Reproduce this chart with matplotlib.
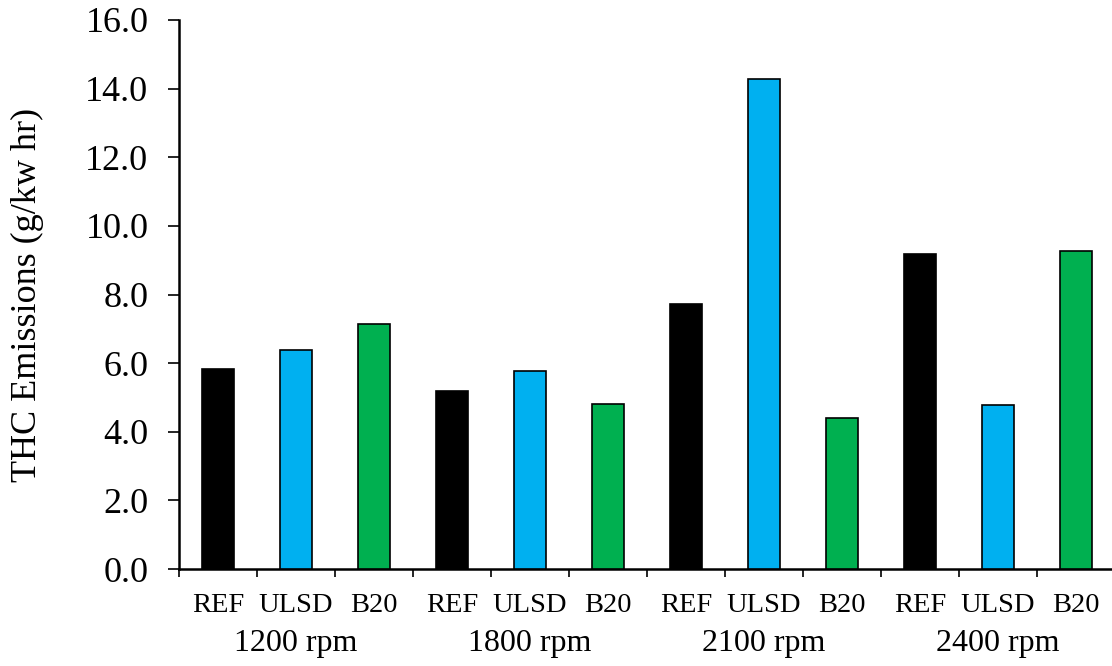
import matplotlib
matplotlib.use("Agg")
import matplotlib.pyplot as plt
import matplotlib.transforms as mtransforms
import numpy as np

plt.rcParams['font.family'] = ['Liberation Serif', 'DejaVu Serif']

speeds = ["1200 rpm", "1800 rpm", "2100 rpm", "2400 rpm"]
fuels = ["REF", "ULSD", "B20"]
ref_vals = [5.84, 5.20, 7.71, 9.19]
ulsd_vals = [6.39, 5.78, 14.29, 4.77]
b20_vals = [7.15, 4.82, 4.41, 9.28]
fuel_colors = {"REF": "#000000", "ULSD": "#00B0F0", "B20": "#00B050"}
y_ticks = [0, 2, 4, 6, 8, 10, 12, 14, 16]

fig = plt.figure(figsize=(11.12, 6.66), dpi=100)
ax = fig.add_axes([179 / 1112, 1 - 569 / 666, (1115 - 179) / 1112, (569 - 20) / 666])

series = {"REF": ref_vals, "ULSD": ulsd_vals, "B20": b20_vals}
labels = []
values = []
colors = []
for g, spd in enumerate(speeds):
    for f in fuels:
        labels.append(f)
        values.append(series[f][g])
        colors.append(fuel_colors[f])

x = np.arange(len(values))
ax.bar(x, values, width=0.42, color=colors, edgecolor="black", linewidth=1.2, zorder=3)

ax.set_xlim(-0.5, len(values) - 0.5)
ax.set_ylim(0, 16)
ax.set_yticks(y_ticks)
ax.set_yticklabels([f"{v:.1f}" for v in y_ticks], fontsize=26)
ax.set_xticks(np.arange(len(values) + 1) - 0.5)
ax.set_xticklabels([])

ax.tick_params(axis="y", direction="out", length=8, width=1.2, pad=14)
ax.tick_params(axis="x", direction="out", length=6, width=1.2)

for side in ["top", "right"]:
    ax.spines[side].set_visible(False)
for side in ["left", "bottom"]:
    ax.spines[side].set_linewidth(1.8)

ax.set_ylabel("THC Emissions (g/kw hr)", fontsize=26)
ax.yaxis.set_label_coords(-0.144, 0.5)

trans = mtransforms.blended_transform_factory(ax.transData, fig.transFigure)
for xi, lab in zip(x, labels):
    ax.text(xi, 1 - 605 / 666, lab, transform=trans, ha="center", va="center",
            fontsize=20.5)
for g, spd in enumerate(speeds):
    ax.text(g * 3 + 1, 1 - 643 / 666, spd, transform=trans, ha="center",
            va="center", fontsize=23)

fig.savefig("out.png", dpi=100)
